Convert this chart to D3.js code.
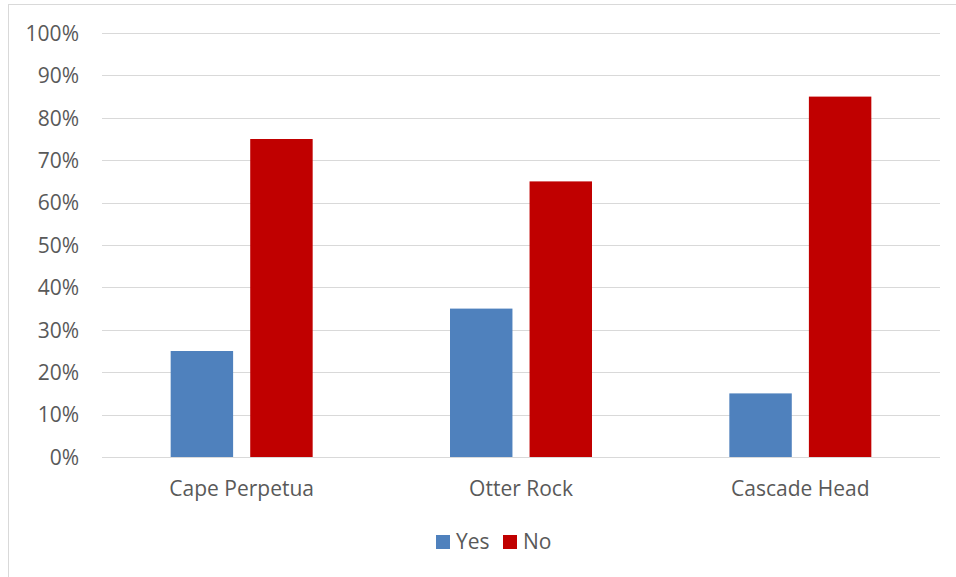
<!DOCTYPE html>
<html>
<head>
<meta charset="utf-8">
<script src="https://cdnjs.cloudflare.com/ajax/libs/d3/7.8.5/d3.min.js"></script>
<style>
  body { margin: 0; background: #fff; }
  text { font-family: "Open Sans", sans-serif; fill: #595959; }
</style>
</head>
<body>
<div id="chart"></div>
<script>
const sites = ["Cape Perpetua", "Otter Rock", "Cascade Head"]
const yesValues = [0.25, 0.35, 0.15]
const noValues = [0.75, 0.65, 0.85]
const seriesNames = ["Yes", "No"]
const yTicks = [0, 0.1, 0.2, 0.3, 0.4, 0.5, 0.6, 0.7, 0.8, 0.9, 1.0]

const W = 956, H = 577
const margin = {top: 33, right: 16, bottom: 120, left: 102}
const colors = {Yes: "#4f81bd", No: "#c00000"}
const fontSize = "21px"

const svg = d3.select("#chart").append("svg")
    .attr("width", W)
    .attr("height", H)

// outer chart frame
svg.append("rect")
    .attr("x", 8.5).attr("y", 4.5)
    .attr("width", W + 20).attr("height", H + 20)
    .attr("fill", "none")
    .attr("stroke", "#d9d9d9")

const width = W - margin.left - margin.right
const height = H - margin.top - margin.bottom

const g = svg.append("g")
    .attr("transform", `translate(${margin.left}, ${margin.top})`)

const x0 = d3.scaleBand().domain(sites).range([0, width]).paddingInner(0).paddingOuter(0)
const x1 = d3.scaleBand().domain(seriesNames).range([0, 142]).paddingInner(0.215)
const y = d3.scaleLinear().domain([0, 1]).range([height, 0])

// gridlines
g.append("g")
    .selectAll("line")
    .data(yTicks)
    .join("line")
        .attr("x1", 0).attr("x2", width)
        .attr("y1", d => Math.round(y(d)) + 0.5)
        .attr("y2", d => Math.round(y(d)) + 0.5)
        .attr("stroke", "#d9d9d9")
        .attr("stroke-width", 1)

// y axis labels
const yAxis = g.append("g")
    .attr("transform", "translate(-20, 0)")
    .call(d3.axisLeft(y).tickValues(yTicks).tickFormat(d3.format(".0%")).tickSize(0))
yAxis.select(".domain").remove()
yAxis.selectAll("text")
    .attr("font-size", fontSize)
    .attr("font-family", "'Open Sans', sans-serif")
    .attr("fill", "#595959")
    .attr("dy", "0.35em")

// bars
const rows = sites.map((s, i) => ({site: s, Yes: yesValues[i], No: noValues[i]}))
const groups = g.selectAll(".grp")
    .data(rows)
    .join("g")
        .attr("class", "grp")
        .attr("transform", d => `translate(${x0(d.site) + x0.bandwidth() / 2 - 71}, 0)`)

groups.selectAll("rect")
    .data(d => seriesNames.map(k => ({key: k, value: d[k]})))
    .join("rect")
        .attr("x", d => x1(d.key))
        .attr("width", x1.bandwidth())
        .attr("y", d => y(d.value))
        .attr("height", d => height - y(d.value))
        .attr("fill", d => colors[d.key])

// x axis labels
const xAxis = g.append("g")
    .attr("transform", `translate(0, ${height + 21})`)
    .call(d3.axisBottom(x0).tickSize(0))
xAxis.select(".domain").remove()
xAxis.selectAll("text")
    .attr("font-size", fontSize)
    .attr("font-family", "'Open Sans', sans-serif")
    .attr("fill", "#595959")

// legend
const legend = svg.append("g")
    .attr("transform", "translate(436, 535)")
const items = legend.selectAll("g")
    .data(seriesNames)
    .join("g")
        .attr("transform", (d, i) => `translate(${i * 67}, 0)`)
items.append("rect")
    .attr("width", 14).attr("height", 14)
    .attr("fill", d => colors[d])
items.append("text")
    .attr("x", 20).attr("y", 7)
    .attr("dy", "0.35em")
    .attr("font-size", fontSize)
    .text(d => d)
</script>
</body>
</html>
